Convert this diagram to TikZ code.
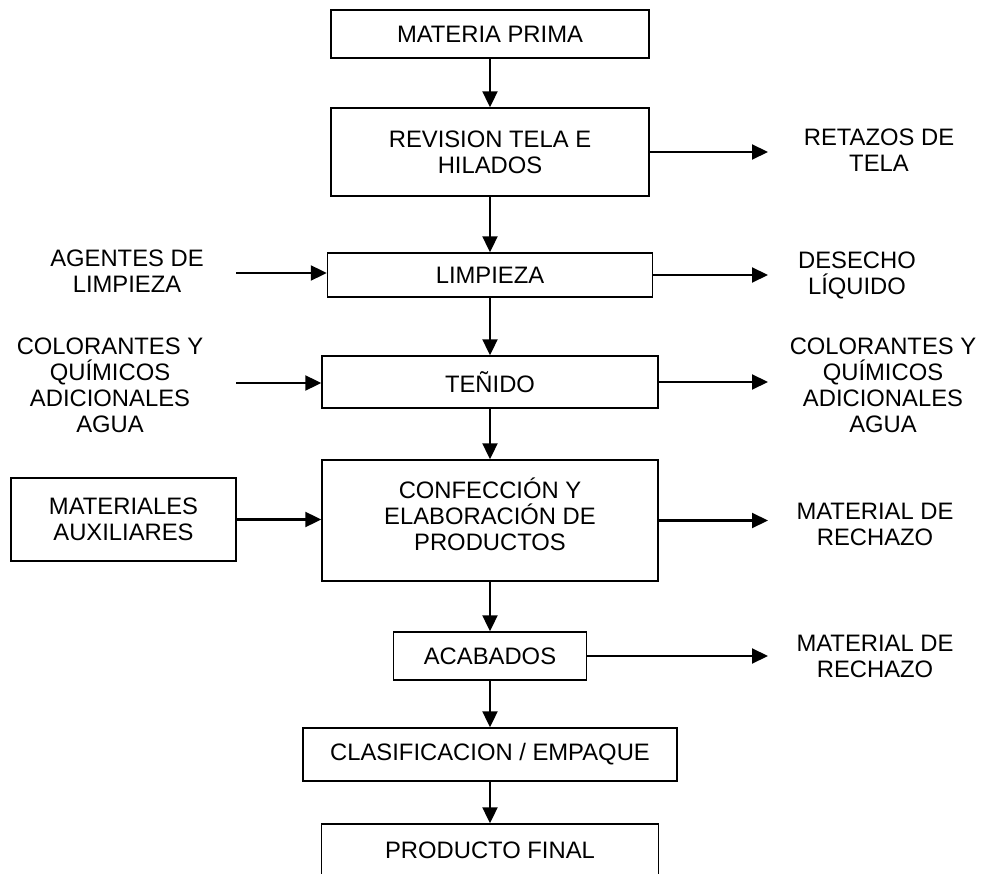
\documentclass[tikz,border=0pt]{standalone}
\usepackage{fontspec}
\setmainfont{Liberation Sans}
\usetikzlibrary{arrows.meta}
\newcommand\fsz{\fontsize{23.8}{26}\selectfont}
\tikzset{
  proc/.style={draw, line width=1.4pt, inner sep=0pt, align=center, font=\fsz},
  lbl/.style={inner sep=0pt, align=center, font=\fsz},
  flow/.style={line width=2.1pt, -{Triangle[length=16pt,width=15pt]}},
}
\begin{document}
\begin{tikzpicture}[x=1pt,y=-1pt]
\useasboundingbox (0,0) rectangle (983,874);
\clip (0,0) rectangle (983,874);
% main column
\node[proc, minimum width=318, minimum height=48] (mp) at (490,34) {MATERIA PRIMA};
\node[proc, minimum width=318, minimum height=88] (rev) at (490,152) {REVISION TELA E\\HILADOS};
\node[proc, minimum width=325, minimum height=44] (limp) at (490,275) {LIMPIEZA};
\node[proc, minimum width=336, minimum height=52] (ten) at (490,382) {TEÑIDO};
\node[proc, minimum width=336, minimum height=121] (conf) at (490,520.5) {CONFECCIÓN Y\\ELABORACIÓN DE\\PRODUCTOS\\[-14pt]\mbox{}};
\node[proc, minimum width=193, minimum height=48] (acab) at (490,656) {ACABADOS};
\node[proc, minimum width=374, minimum height=53] (clas) at (490,754.5) {CLASIFICACION / EMPAQUE};
\node[proc, minimum width=337, minimum height=52] (pf) at (490,850) {PRODUCTO FINAL};
% left side
\node[proc, minimum width=225, minimum height=83] (mat) at (123.5,519.5) {MATERIALES\\AUXILIARES};
\node[lbl] (agl) at (127,271.5) {AGENTES DE\\LIMPIEZA};
\node[lbl] (coll) at (110,385.5) {COLORANTES Y\\QUÍMICOS\\ADICIONALES\\AGUA};
% right side
\node[lbl] (ret) at (879,150) {RETAZOS DE\\TELA};
\node[lbl] (des) at (857,275.5) {DESECHO\\LÍQUIDO};
\node[lbl] (colr) at (883,385.5) {COLORANTES Y\\QUÍMICOS\\ADICIONALES\\AGUA};
\node[lbl] (rech1) at (875,524.5) {MATERIAL DE\\RECHAZO};
\node[lbl] (rech2) at (875,656.5) {MATERIAL DE\\RECHAZO};
% free ends
\coordinate (agS) at (236,273);
\coordinate (colS) at (236,383);
\coordinate (outX) at (768,0);
% main flow
\draw[flow] (mp.south) -- (rev.north);
\draw[flow] (rev.south) -- (limp.north);
\draw[flow] (limp.south) -- (ten.north);
\draw[flow] (ten.south) -- (conf.north);
\draw[flow] (conf.south) -- (acab.north);
\draw[flow] (acab.south) -- (clas.north);
\draw[flow] (clas.south) -- (pf.north);
% inputs
\draw[flow] (agS) -- (agS -| limp.west);
\draw[flow] (colS) -- (colS -| ten.west);
\draw[flow] (mat.east) -- (mat.east -| conf.west);
% outputs
\draw[flow] (rev.east) -- (rev.east -| outX);
\draw[flow] (limp.east) -- (limp.east -| outX);
\draw[flow] (ten.east) -- (ten.east -| outX);
\draw[flow] (conf.east) -- (conf.east -| outX);
\draw[flow] (acab.east) -- (acab.east -| outX);
\end{tikzpicture}
\end{document}
